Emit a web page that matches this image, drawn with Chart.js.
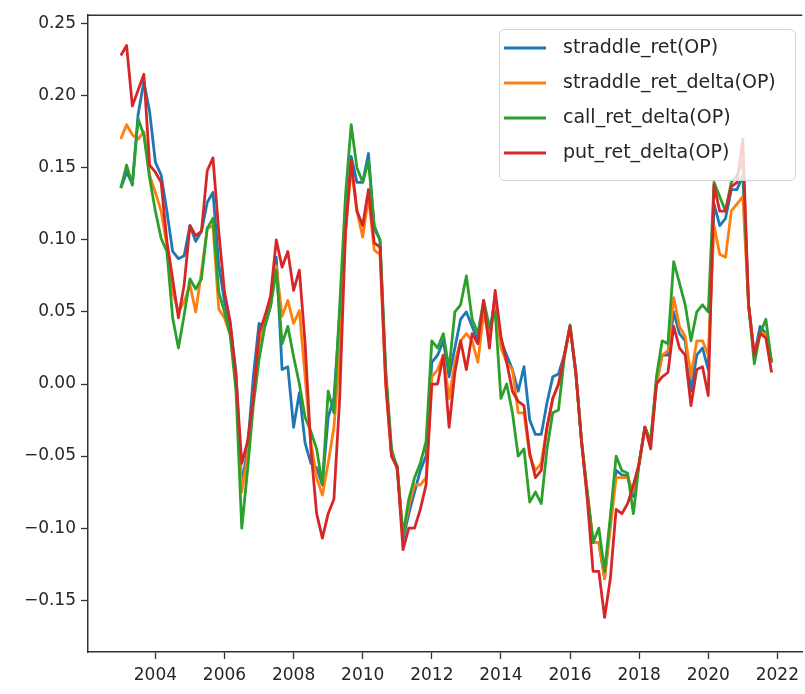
<!DOCTYPE html>
<html>
<head>
<meta charset="utf-8">
<script src="https://cdn.jsdelivr.net/npm/chart.js@4.4.0/dist/chart.umd.min.js"></script>
<style>
  html, body { margin: 0; padding: 0; background: #fff; overflow: hidden; }
  #wrap { width: 805px; height: 694px; }
</style>
</head>
<body>
<div id="wrap"><canvas id="chart" width="805" height="694"></canvas></div>
<script>
// one row per year, every second month
const months = [
  '2003-01','2003-03','2003-05','2003-07','2003-09','2003-11',
  '2004-01','2004-03','2004-05','2004-07','2004-09','2004-11',
  '2005-01','2005-03','2005-05','2005-07','2005-09','2005-11',
  '2006-01','2006-03','2006-05','2006-07','2006-09','2006-11',
  '2007-01','2007-03','2007-05','2007-07','2007-09','2007-11',
  '2008-01','2008-03','2008-05','2008-07','2008-09','2008-11',
  '2009-01','2009-03','2009-05','2009-07','2009-09','2009-11',
  '2010-01','2010-03','2010-05','2010-07','2010-09','2010-11',
  '2011-01','2011-03','2011-05','2011-07','2011-09','2011-11',
  '2012-01','2012-03','2012-05','2012-07','2012-09','2012-11',
  '2013-01','2013-03','2013-05','2013-07','2013-09','2013-11',
  '2014-01','2014-03','2014-05','2014-07','2014-09','2014-11',
  '2015-01','2015-03','2015-05','2015-07','2015-09','2015-11',
  '2016-01','2016-03','2016-05','2016-07','2016-09','2016-11',
  '2017-01','2017-03','2017-05','2017-07','2017-09','2017-11',
  '2018-01','2018-03','2018-05','2018-07','2018-09','2018-11',
  '2019-01','2019-03','2019-05','2019-07','2019-09','2019-11',
  '2020-01','2020-03','2020-05','2020-07','2020-09','2020-11',
  '2021-01','2021-03','2021-05','2021-07','2021-09','2021-11'
];

const straddleRet = [
  0.136, 0.147, 0.139, 0.187, 0.210, 0.189,
  0.154, 0.145, 0.120, 0.092, 0.087, 0.089,
  0.110, 0.099, 0.106, 0.126, 0.133, 0.083,
  0.057, 0.041, 0.008, -0.070, -0.045, 0.005,
  0.042, 0.040, 0.054, 0.088, 0.010, 0.012,
  -0.030, -0.006, -0.041, -0.055, -0.058, -0.070,
  -0.023, -0.010, 0.048, 0.105, 0.158, 0.140,
  0.140, 0.160, 0.108, 0.100, 0.005, -0.048,
  -0.057, -0.108, -0.090, -0.075, -0.060, -0.050,
  0.015, 0.020, 0.030, 0.005, 0.025, 0.045,
  0.050, 0.040, 0.030, 0.055, 0.035, 0.060,
  0.030, 0.020, 0.010, -0.005, 0.012, -0.025,
  -0.035, -0.035, -0.013, 0.005, 0.007, 0.020,
  0.040, 0.008, -0.040, -0.077, -0.110, -0.110,
  -0.135, -0.095, -0.060, -0.063, -0.064, -0.078,
  -0.055, -0.030, -0.040, 0.000, 0.020, 0.020,
  0.050, 0.035, 0.030, -0.005, 0.020, 0.025,
  0.010, 0.125, 0.110, 0.115, 0.135, 0.135,
  0.145, 0.055, 0.020, 0.040, 0.035, 0.015
];

const straddleRetDelta = [
  0.170, 0.180, 0.173, 0.170, 0.175, 0.145,
  0.133, 0.120, 0.096, 0.064, 0.050, 0.057,
  0.069, 0.050, 0.078, 0.108, 0.110, 0.052,
  0.046, 0.034, 0.002, -0.075, -0.050, -0.010,
  0.028, 0.042, 0.056, 0.082, 0.047, 0.058,
  0.042, 0.051, 0.005, -0.040, -0.065, -0.077,
  -0.055, -0.030, 0.020, 0.105, 0.150, 0.120,
  0.102, 0.130, 0.093, 0.090, 0.000, -0.050,
  -0.058, -0.105, -0.085, -0.070, -0.070, -0.065,
  0.005, 0.010, 0.020, -0.010, 0.015, 0.030,
  0.035, 0.030, 0.015, 0.050, 0.030, 0.060,
  0.025, 0.015, 0.010, -0.020, -0.020, -0.050,
  -0.060, -0.055, -0.030, -0.010, 0.000, 0.020,
  0.040, 0.008, -0.040, -0.075, -0.110, -0.110,
  -0.135, -0.100, -0.065, -0.065, -0.065, -0.075,
  -0.055, -0.030, -0.040, 0.000, 0.020, 0.023,
  0.060, 0.040, 0.033, 0.005, 0.030, 0.030,
  0.020, 0.110, 0.090, 0.088, 0.120, 0.125,
  0.130, 0.055, 0.020, 0.035, 0.035, 0.015
];

const callRetDelta = [
  0.136, 0.152, 0.138, 0.184, 0.173, 0.143,
  0.120, 0.101, 0.092, 0.046, 0.025, 0.048,
  0.073, 0.066, 0.073, 0.108, 0.115, 0.064,
  0.050, 0.034, -0.005, -0.100, -0.060, -0.015,
  0.017, 0.040, 0.054, 0.079, 0.028, 0.040,
  0.019, 0.000, -0.023, -0.033, -0.045, -0.070,
  -0.005, -0.020, 0.054, 0.130, 0.180, 0.150,
  0.140, 0.155, 0.110, 0.100, 0.010, -0.045,
  -0.060, -0.105, -0.080, -0.065, -0.055, -0.040,
  0.030, 0.025, 0.035, 0.010, 0.050, 0.055,
  0.075, 0.045, 0.035, 0.058, 0.040, 0.050,
  -0.010, 0.000, -0.020, -0.050, -0.045, -0.082,
  -0.075, -0.083, -0.045, -0.020, -0.018, 0.018,
  0.041, 0.008, -0.040, -0.075, -0.110, -0.100,
  -0.130, -0.092, -0.050, -0.060, -0.062, -0.090,
  -0.055, -0.030, -0.040, 0.005, 0.030, 0.028,
  0.085, 0.070, 0.055, 0.030, 0.050, 0.055,
  0.050, 0.140, 0.130, 0.120, 0.140, 0.145,
  0.155, 0.055, 0.014, 0.035, 0.045, 0.015
];

const putRetDelta = [
  0.228, 0.235, 0.193, 0.204, 0.215, 0.152,
  0.147, 0.140, 0.099, 0.073, 0.046, 0.069,
  0.110, 0.103, 0.106, 0.148, 0.157, 0.106,
  0.064, 0.043, 0.005, -0.055, -0.040, -0.010,
  0.035, 0.047, 0.061, 0.100, 0.081, 0.092,
  0.065, 0.079, 0.028, -0.045, -0.090, -0.107,
  -0.090, -0.080, -0.010, 0.105, 0.155, 0.120,
  0.110, 0.135, 0.098, 0.095, 0.000, -0.050,
  -0.058, -0.115, -0.100, -0.100, -0.087, -0.070,
  0.000, 0.000, 0.020, -0.030, 0.008, 0.030,
  0.010, 0.035, 0.028, 0.058, 0.025, 0.065,
  0.033, 0.015, -0.005, -0.012, -0.015, -0.048,
  -0.065, -0.060, -0.030, -0.010, 0.000, 0.020,
  0.040, 0.008, -0.040, -0.080, -0.130, -0.130,
  -0.162, -0.135, -0.087, -0.090, -0.083, -0.070,
  -0.055, -0.030, -0.045, 0.000, 0.005, 0.008,
  0.040, 0.025, 0.020, -0.015, 0.010, 0.012,
  -0.008, 0.138, 0.120, 0.120, 0.137, 0.140,
  0.170, 0.055, 0.020, 0.035, 0.032, 0.008
];

const seriesNames = ['straddle_ret(OP)', 'straddle_ret_delta(OP)', 'call_ret_delta(OP)', 'put_ret_delta(OP)'];
const xTicks = [2004, 2006, 2008, 2010, 2012, 2014, 2016, 2018, 2020, 2022];
const yTicks = [-0.15, -0.10, -0.05, 0.00, 0.05, 0.10, 0.15, 0.20, 0.25];

// month string -> decimal year for the linear x axis
function toYear(m) {
    const parts = m.split('-');
    return Number(parts[0]) + (Number(parts[1]) - 1) / 12;
}

function points(values) {
    return values.map((v, i) => ({ x: toYear(months[i]), y: v }));
}

const colors = ['#1f77b4', '#ff7f0e', '#2ca02c', '#d62728'];
const allSeries = [straddleRet, straddleRetDelta, callRetDelta, putRetDelta];

const datasets = allSeries.map((values, i) => ({
    label: seriesNames[i],
    data: points(values),
    borderColor: colors[i],
    borderWidth: 2.8,
    borderJoinStyle: 'round',
    pointRadius: 0,
    tension: 0,
    order: 3 - i  // red on top, like matplotlib
}));

const tickFont = { family: 'DejaVu Sans', size: 17 };

// top spine (the right one is cut off in the picture)
const topSpine = {
    id: 'topSpine',
    afterDraw(chart) {
        const { ctx, chartArea } = chart;
        ctx.save();
        ctx.strokeStyle = '#333';
        ctx.lineWidth = 1.5;
        ctx.beginPath();
        ctx.moveTo(chartArea.left, chartArea.top);
        ctx.lineTo(chartArea.right, chartArea.top);
        ctx.stroke();
        ctx.restore();
    }
};

// matplotlib style legend box in the upper right
const legendBox = {
    id: 'legendBox',
    afterDraw(chart) {
        const ctx = chart.ctx;
        ctx.save();
        ctx.fillStyle = 'rgba(255,255,255,0.8)';
        ctx.strokeStyle = '#d4d4d4';
        ctx.lineWidth = 1;
        ctx.beginPath();
        ctx.roundRect(499.5, 29.5, 296, 151, 5);
        ctx.fill();
        ctx.stroke();
        ctx.font = '19px "DejaVu Sans"';
        ctx.textBaseline = 'middle';
        chart.data.datasets.forEach((ds, i) => {
            const cy = 48 + i * 35;
            ctx.strokeStyle = ds.borderColor;
            ctx.lineWidth = 2.8;
            ctx.beginPath();
            ctx.moveTo(504, cy);
            ctx.lineTo(546, cy);
            ctx.stroke();
            ctx.fillStyle = '#262626';
            ctx.fillText(ds.label, 563, cy);
        });
        ctx.restore();
    }
};

new Chart(document.getElementById('chart'), {
    type: 'line',
    data: { datasets: datasets },
    options: {
        responsive: false,
        animation: false,
        layout: { padding: { top: 15, right: 0, left: 0, bottom: 0 } },
        plugins: {
            legend: { display: false },
            tooltip: { enabled: false }
        },
        scales: {
            x: {
                type: 'linear',
                min: 2002.05,
                max: 2022.72,
                afterBuildTicks: axis => { axis.ticks = xTicks.map(v => ({ value: v })); },
                afterFit: axis => { axis.height = 42; },
                ticks: {
                    font: tickFont,
                    color: '#262626',
                    padding: 6,
                    maxRotation: 0,
                    autoSkip: false,
                    callback: v => String(v)
                },
                grid: { drawOnChartArea: false, tickLength: 7, tickColor: '#333', tickWidth: 1.3 },
                border: { display: true, color: '#333', width: 1.5 }
            },
            y: {
                min: -0.186,
                max: 0.256,
                afterBuildTicks: axis => { axis.ticks = yTicks.map(v => ({ value: v })); },
                afterFit: axis => { axis.width = 88; },
                ticks: {
                    font: tickFont,
                    color: '#262626',
                    padding: 5,
                    callback: v => (v < -1e-9 ? '\u2212' : '') + Math.abs(v).toFixed(2)
                },
                grid: { drawOnChartArea: false, tickLength: 7, tickColor: '#333', tickWidth: 1.3 },
                border: { display: true, color: '#333', width: 1.5 }
            }
        }
    },
    plugins: [topSpine, legendBox]
});
</script>
</body>
</html>
